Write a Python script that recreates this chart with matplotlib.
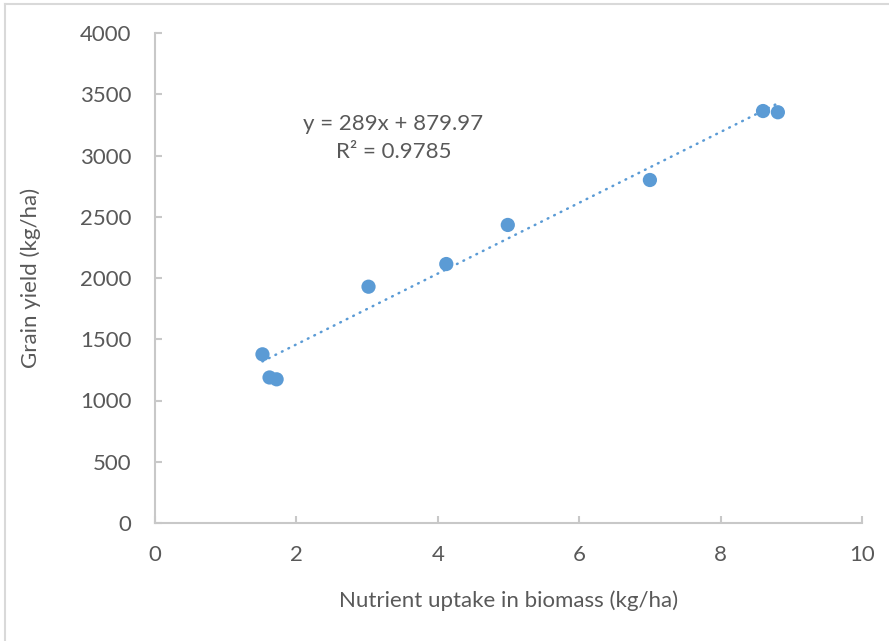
import numpy as np
import matplotlib.pyplot as plt
from matplotlib.lines import Line2D

plt.rcParams['font.family'] = ['Lato', 'DejaVu Sans']

# data
uptake = [1.52, 1.62, 1.72, 3.02, 4.12, 4.99, 7.0, 8.6, 8.81]
grain_yield = [1377, 1188, 1173, 1929, 2114, 2433, 2800, 3363, 3353]
slope = 289
intercept = 879.97
eq_text = "y = 289x + 879.97\nR² = 0.9785"

x_ticks = [0, 2, 4, 6, 8, 10]
y_ticks = [0, 500, 1000, 1500, 2000, 2500, 3000, 3500, 4000]

BLUE = "#5B9BD5"
TEXT = "#595959"
AXIS = "#C8C8C8"

fig = plt.figure(figsize=(8.89, 6.41), dpi=100)
ax = fig.add_axes([155/889, 1-523/641, (862-155)/889, (523-33)/641])

# trendline over the data range
xt = np.array([min(uptake), max(uptake)])
ax.plot(xt, slope*xt + intercept, color=BLUE, lw=1.8,
        linestyle=(0, (0.3, 2.6)), dash_capstyle='round', zorder=2)
ax.scatter(uptake, grain_yield, s=105, color=BLUE, edgecolors='none', zorder=3)

ax.text(3.37, 3139, eq_text, ha='center', va='center', fontsize=16,
        color=TEXT, linespacing=1.5)

ax.set_xlim(0, 10)
ax.set_ylim(0, 4000)
ax.set_xticks(x_ticks)
ax.set_yticks(y_ticks)
for s in ['top', 'right']:
    ax.spines[s].set_visible(False)
for s in ['left', 'bottom']:
    ax.spines[s].set_color(AXIS)
    ax.spines[s].set_linewidth(1.5)
ax.tick_params(direction='in', length=5, width=1.5, color=AXIS,
               labelcolor=TEXT, labelsize=16)
ax.tick_params(axis='x', pad=16)
ax.tick_params(axis='y', pad=17)

ax.set_xlabel("Nutrient uptake in biomass (kg/ha)", fontsize=16, color=TEXT, labelpad=18)
ax.set_ylabel("Grain yield (kg/ha)", fontsize=16, color=TEXT, labelpad=28)

# outer chart border (left and top edges visible)
fig.add_artist(Line2D([5/889, 5/889], [0, 1-4/641], color="#D9D9D9", lw=1.5))
fig.add_artist(Line2D([5/889, 1], [1-4/641, 1-4/641], color="#D9D9D9", lw=1.5))

fig.savefig("out.png", dpi=100)
